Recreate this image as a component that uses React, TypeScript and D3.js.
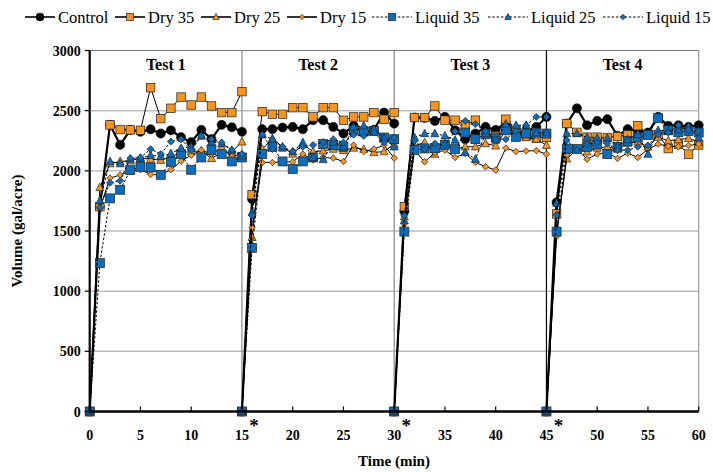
import React from "react";
import * as d3 from "d3";

const testStarts = [0, 15, 30, 45];
const offsets = [0, 1, 2, 3, 4, 5, 6, 7, 8, 9, 10, 11, 12, 13, 14, 15];
const yTicks = [0, 500, 1000, 1500, 2000, 2500, 3000];
const xTicks = [0, 5, 10, 15, 20, 25, 30, 35, 40, 45, 50, 55, 60];
const testLabels = ["Test 1", "Test 2", "Test 3", "Test 4"];

const control = [
  0, 1700, 2382, 2216, 2340, 2325, 2345, 2310, 2337, 2280, 2238, 2340, 2263, 2382, 2362, 2325,
  0, 1766, 2346, 2346, 2360, 2365, 2346, 2421, 2421, 2365, 2310, 2374, 2318, 2340, 2484, 2393,
  0, 1664, 2443, 2440, 2415, 2448, 2337, 2263, 2310, 2365, 2340, 2400, 2318, 2320, 2365, 2448,
  0, 1738, 2393, 2520, 2379, 2415, 2429, 2290, 2346, 2335, 2318, 2448, 2374, 2379, 2365, 2379,
];
const dry35 = [
  0, 1702, 2382, 2343, 2340, 2337, 2691, 2434, 2520, 2613, 2547, 2613, 2539, 2484, 2484, 2658,
  0, 1802, 2492, 2470, 2470, 2525, 2525, 2448, 2525, 2525, 2420, 2448, 2448, 2484, 2429, 2484,
  0, 1702, 2443, 2443, 2539, 2421, 2421, 2382, 2421, 2310, 2290, 2429, 2332, 2291, 2272, 2277,
  0, 1642, 2393, 2320, 2280, 2280, 2277, 2285, 2300, 2375, 2300, 2300, 2185, 2220, 2139, 2215,
];
const dry25 = [
  0, 1862, 2060, 2078, 2083, 2105, 2097, 2089, 2116, 2152, 2160, 2166, 2103, 2152, 2158, 2241,
  0, 1448, 2180, 2268, 2200, 2140, 2222, 2160, 2166, 2181, 2170, 2190, 2180, 2153, 2160, 2222,
  0, 1620, 2208, 2235, 2139, 2227, 2180, 2200, 2200, 2227, 2208, 2337, 2337, 2277, 2263, 2213,
  0, 1500, 2100, 2180, 2158, 2190, 2200, 2180, 2230, 2240, 2200, 2280, 2250, 2260, 2270, 2240,
];
const dry15 = [
  0, 1690, 1940, 1965, 2000, 2010, 1970, 1965, 2010, 2080, 2130, 2172, 2140, 2190, 2119, 2140,
  0, 1526, 2070, 2070, 2075, 2075, 2139, 2090, 2110, 2106, 2078, 2214, 2160, 2181, 2214, 2106,
  0, 1560, 2172, 2075, 2150, 2172, 2111, 2144, 2070, 2034, 2007, 2189, 2160, 2165, 2168, 2139,
  0, 1454, 2130, 2180, 2097, 2140, 2153, 2103, 2147, 2111, 2180, 2222, 2205, 2200, 2210, 2222,
];
const liquid35 = [
  0, 1233, 1771, 1843, 2006, 2034, 2028, 1967, 2075, 2138, 2009, 2111, 2174, 2138, 2078, 2111,
  0, 1360, 2139, 2200, 2078, 2015, 2078, 2111, 2222, 2215, 2200, 2337, 2327, 2330, 2277, 2263,
  0, 1495, 2172, 2186, 2188, 2216, 2180, 2318, 2263, 2304, 2277, 2337, 2282, 2310, 2318, 2310,
  0, 1495, 2185, 2181, 2200, 2220, 2139, 2200, 2249, 2277, 2300, 2437, 2337, 2320, 2330, 2318,
];
const liquid25 = [
  0, 1752, 2078, 2060, 2097, 2105, 2130, 2120, 2144, 2188, 2200, 2290, 2241, 2227, 2172, 2125,
  0, 1655, 2300, 2263, 2190, 2160, 2236, 2111, 2095, 2240, 2200, 2365, 2374, 2346, 2271, 2200,
  0, 1587, 2277, 2310, 2310, 2291, 2255, 2153, 2097, 2310, 2255, 2390, 2379, 2379, 2318, 2318,
  0, 1733, 2310, 2310, 2277, 2272, 2272, 2208, 2260, 2304, 2139, 2337, 2330, 2340, 2365, 2277,
];
const liquid15 = [
  0, 1697, 1900, 1918, 2105, 2110, 2180, 2140, 2243, 2263, 2172, 2290, 2263, 2235, 2172, 2140,
  0, 1628, 2300, 2181, 2200, 2160, 2200, 2214, 2240, 2263, 2236, 2300, 2290, 2318, 2236, 2277,
  0, 1628, 2249, 2180, 2227, 2216, 2327, 2415, 2387, 2330, 2263, 2263, 2330, 2379, 2448, 2448,
  0, 1634, 2255, 2172, 2220, 2235, 2227, 2172, 2172, 2200, 2210, 2300, 2318, 2379, 2337, 2330,
];

const ORANGE = "#F7941D";
const BLUE = "#0A6EBD";

type Shape = "circle" | "square" | "triangle" | "diamond";
interface Series {
  name: string;
  values: number[];
  shape: Shape;
  fill: string;
  size: number;
  width: number;
  dash: string | null;
}

const series: Series[] = [
  { name: "Control", values: control, shape: "circle", fill: "#000", size: 4.6, width: 2.2, dash: null },
  { name: "Dry 35", values: dry35, shape: "square", fill: ORANGE, size: 8.5, width: 1, dash: null },
  { name: "Dry 25", values: dry25, shape: "triangle", fill: ORANGE, size: 8, width: 1, dash: null },
  { name: "Dry 15", values: dry15, shape: "diamond", fill: ORANGE, size: 6.5, width: 1, dash: null },
  { name: "Liquid 35", values: liquid35, shape: "square", fill: BLUE, size: 9, width: 1, dash: "2.5,1.8" },
  { name: "Liquid 25", values: liquid25, shape: "triangle", fill: BLUE, size: 8, width: 1, dash: "2.5,1.8" },
  { name: "Liquid 15", values: liquid15, shape: "diamond", fill: BLUE, size: 7, width: 1, dash: "2.5,1.8" },
];

const legendX = [25, 115, 201, 287, 372, 488, 603];

const W = 713;
const H = 472;
const x = d3.scaleLinear().domain([0, 60]).range([89.7, 698.7]);
const y = d3.scaleLinear().domain([0, 3000]).range([411.5, 50.5]);
const FONT = "'Liberation Serif', 'Times New Roman', Times, serif";

function Marker({ shape, cx, cy, fill, size }: { shape: Shape; cx: number; cy: number; fill: string; size: number }) {
  const stroke = "#222";
  const sw = 0.7;
  if (shape === "circle") return <circle cx={cx} cy={cy} r={size} fill={fill} stroke="#000" strokeWidth={0.5} />;
  if (shape === "square") {
    const h = size / 2;
    return <rect x={cx - h} y={cy - h} width={size} height={size} fill={fill} stroke={stroke} strokeWidth={sw} />;
  }
  if (shape === "triangle") {
    const h = size / 2;
    const pts = `${cx},${cy - h * 1.1} ${cx + h},${cy + h * 0.8} ${cx - h},${cy + h * 0.8}`;
    return <polygon points={pts} fill={fill} stroke={stroke} strokeWidth={sw} />;
  }
  const h = size / 2;
  const pts = `${cx},${cy - h} ${cx + h},${cy} ${cx},${cy + h} ${cx - h},${cy}`;
  return <polygon points={pts} fill={fill} stroke={stroke} strokeWidth={sw} />;
}

export default function App() {
  const line = d3
    .line<[number, number]>()
    .x((d) => x(d[0]))
    .y((d) => y(d[1]));

  const segs = (s: Series) =>
    testStarts.map((t0, k) => offsets.map((o, i) => [t0 + o, s.values[k * 16 + i]] as [number, number]));

  const tStyle = { fontFamily: FONT };

  return (
    <svg width={W} height={H} style={{ position: "absolute", left: 0, top: 0, background: "#fff", fontFamily: FONT }}>
      <rect x={0} y={0} width={W} height={H} fill="#fff" />
      {yTicks.filter((v) => v > 0 && v < 3000).map((v) => (
        <line key={"g" + v} x1={x(0)} x2={x(60)} y1={y(v)} y2={y(v)} stroke="#BDBDBD" strokeWidth={1.5} />
      ))}
      <line x1={x(0)} x2={x(60)} y1={y(3000)} y2={y(3000)} stroke="#777" strokeWidth={1.2} />
      <line x1={x(60)} x2={x(60)} y1={y(3000)} y2={y(0)} stroke="#999" strokeWidth={1.2} />
      {testStarts.slice(1).map((t, i) => (
        <line key={"v" + t} x1={x(t)} x2={x(t)} y1={y(3000)} y2={y(0)} stroke={i === 2 ? "#000" : "#888"} strokeWidth={1.2} />
      ))}
      {testStarts.map((t, i) => (
        <text key={"t" + i} x={x(t + 7.5)} y={70} textAnchor="middle" fontWeight="bold" fontSize={16} style={tStyle}>
          {testLabels[i]}
        </text>
      ))}
      {series.map((s) => (
        <g key={s.name}>
          {segs(s).map((seg, k) => (
            <path
              key={k}
              d={line(seg) || ""}
              fill="none"
              stroke="#000"
              strokeWidth={s.width}
              strokeDasharray={s.dash || undefined}
            />
          ))}
          {segs(s).flat().map((d, i) => (
            <Marker key={i} shape={s.shape} cx={x(d[0])} cy={y(d[1])} fill={s.fill} size={s.size} />
          ))}
        </g>
      ))}
      <line x1={x(0)} x2={x(0)} y1={y(3000)} y2={y(0) + 1} stroke="#000" strokeWidth={2.2} />
      <line x1={x(0) - 1} x2={x(60)} y1={y(0)} y2={y(0)} stroke="#000" strokeWidth={2.5} />
      {yTicks.map((v) => (
        <g key={"yt" + v}>
          <line x1={x(0) - 5} x2={x(0)} y1={y(v)} y2={y(v)} stroke="#000" strokeWidth={1.2} />
          <text x={x(0) - 9} y={y(v) + 5} textAnchor="end" fontWeight="bold" fontSize={14} style={tStyle}>
            {v}
          </text>
        </g>
      ))}
      {xTicks.map((t) => (
        <g key={"xt" + t}>
          <line x1={x(t)} x2={x(t)} y1={y(0)} y2={y(0) - 5} stroke="#000" strokeWidth={1.2} />
          <text x={x(t)} y={440} textAnchor="middle" fontWeight="bold" fontSize={14} style={tStyle}>
            {t}
          </text>
        </g>
      ))}
      {testStarts.slice(1).map((t) => (
        <text key={"s" + t} x={x(t) + 12} y={432} textAnchor="middle" fontWeight="bold" fontSize={19} style={tStyle}>
          *
        </text>
      ))}
      <text x={394} y={466} textAnchor="middle" fontWeight="bold" fontSize={15} style={tStyle}>
        Time (min)
      </text>
      <text transform={`translate(22,${y(1500)}) rotate(-90)`} textAnchor="middle" fontWeight="bold" fontSize={15} style={tStyle}>
        Volume (gal/acre)
      </text>
      {series.map((s, i) => {
        const lx = legendX[i];
        const len = s.dash ? 40 : 30;
        return (
          <g key={"l" + i}>
            <line x1={lx} x2={lx + len} y1={17} y2={17} stroke="#000" strokeWidth={s.dash ? 1 : 1.6} strokeDasharray={s.dash || undefined} />
            <Marker shape={s.shape} cx={lx + len / 2} cy={17} fill={s.fill} size={s.shape === "circle" ? 4 : s.size * 0.8} />
            <text x={lx + len + 3} y={22.5} fontSize={16.5} style={tStyle}>
              {s.name}
            </text>
          </g>
        );
      })}
    </svg>
  );
}
